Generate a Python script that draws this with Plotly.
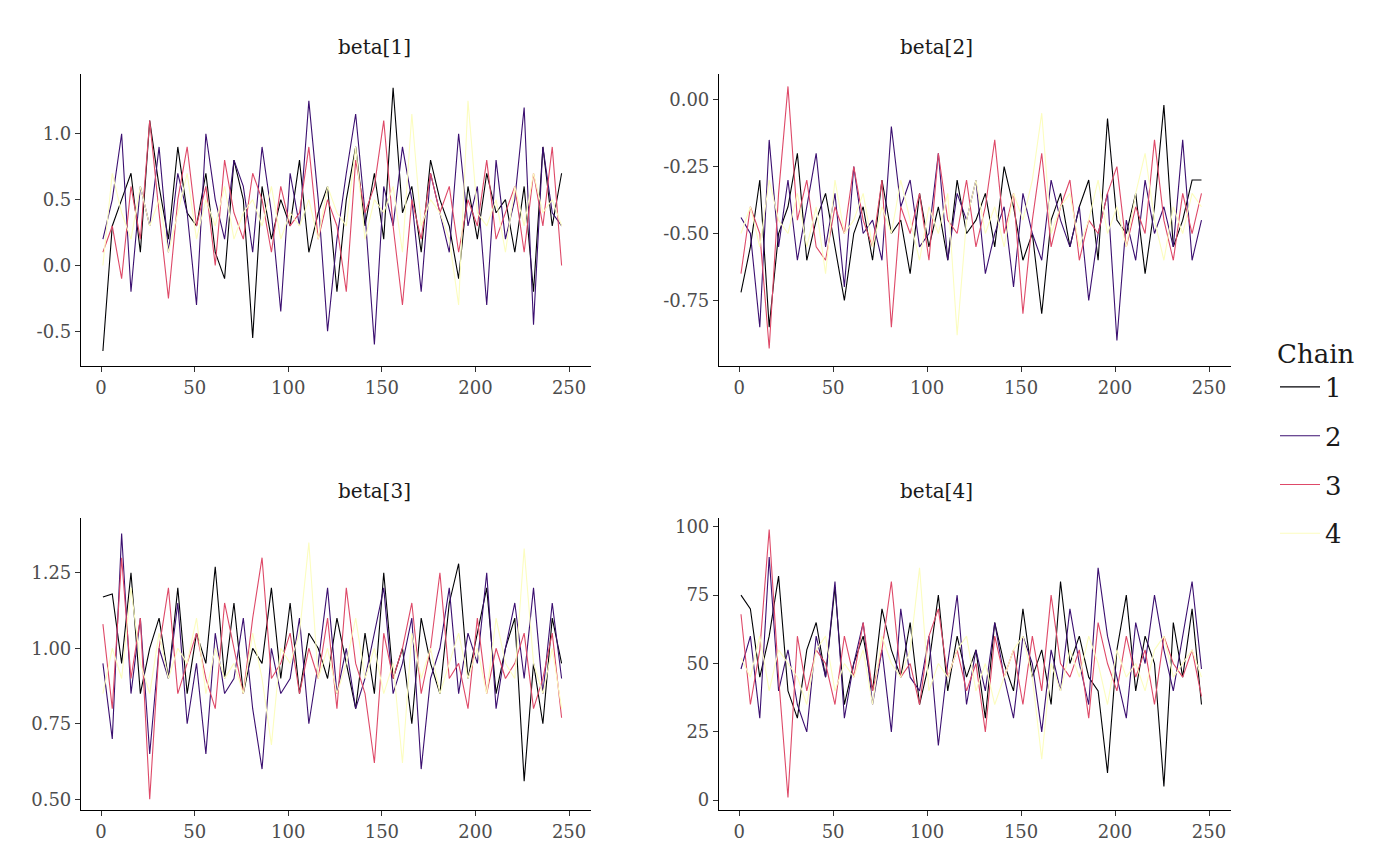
import plotly.graph_objects as go

params = ["beta[1]", "beta[2]", "beta[3]", "beta[4]"]
chains = ["1", "2", "3", "4"]
colors = ["#000004", "#3B0F70", "#DE4968", "#FCFDBF"]
step = 5  # values read roughly every 5th iteration

beta1 = [
    [-0.65,0.3,0.5,0.7,0.1,1.1,0.6,0.2,0.9,0.4,0.3,0.7,0.1,-0.1,0.8,0.5,-0.55,0.6,0.2,0.5,0.3,0.8,0.1,0.4,0.6,-0.2,0.5,0.9,0.3,0.7,0.2,1.35,0.4,0.6,0.1,0.8,0.5,0.3,-0.1,0.6,0.2,0.7,0.4,0.5,0.1,0.6,-0.2,0.9,0.3,0.7],
    [0.2,0.5,1.0,-0.2,0.6,0.3,0.9,0.1,0.7,0.4,-0.3,1.0,0.5,0.2,0.8,0.6,0.1,0.9,0.4,-0.35,0.7,0.3,1.25,0.5,-0.5,0.2,0.7,1.15,0.4,-0.6,0.6,0.3,0.9,0.5,-0.2,0.7,0.4,0.1,1.0,0.3,0.6,-0.3,0.8,0.2,0.5,1.2,-0.45,0.9,0.4,0.3],
    [0.1,0.3,-0.1,0.6,0.2,1.1,0.4,-0.25,0.5,0.9,0.3,0.6,0.0,0.8,0.4,0.2,0.7,0.5,0.1,0.6,0.3,0.4,0.9,0.2,0.5,0.3,-0.2,0.8,0.4,0.6,1.1,0.3,-0.3,0.5,0.2,0.7,0.4,0.6,0.1,0.5,0.3,0.8,0.2,0.4,0.6,0.1,0.7,0.3,0.9,0.0],
    [0.0,0.7,0.4,0.2,0.6,0.3,0.5,0.1,0.4,0.7,0.2,0.5,0.3,0.6,0.2,0.4,0.5,0.3,0.6,0.2,0.4,0.3,0.5,0.2,0.6,0.4,0.3,0.9,0.2,0.5,0.4,0.6,0.1,1.15,0.3,0.5,0.4,0.2,-0.3,1.25,0.4,0.3,0.5,0.1,0.6,0.3,0.7,0.4,0.5,0.3],
]
beta2 = [
    [-0.72,-0.55,-0.3,-0.85,-0.5,-0.4,-0.2,-0.6,-0.45,-0.35,-0.55,-0.75,-0.5,-0.4,-0.6,-0.3,-0.5,-0.45,-0.65,-0.35,-0.55,-0.4,-0.6,-0.3,-0.5,-0.45,-0.35,-0.55,-0.25,-0.4,-0.6,-0.5,-0.8,-0.45,-0.35,-0.55,-0.4,-0.3,-0.6,-0.07,-0.45,-0.5,-0.35,-0.65,-0.4,-0.02,-0.55,-0.45,-0.3,-0.3],
    [-0.44,-0.5,-0.85,-0.15,-0.55,-0.3,-0.6,-0.4,-0.2,-0.55,-0.35,-0.7,-0.25,-0.5,-0.45,-0.6,-0.1,-0.4,-0.3,-0.55,-0.5,-0.2,-0.6,-0.35,-0.45,-0.3,-0.65,-0.5,-0.4,-0.7,-0.35,-0.5,-0.6,-0.3,-0.45,-0.55,-0.4,-0.75,-0.5,-0.35,-0.9,-0.45,-0.6,-0.3,-0.5,-0.4,-0.55,-0.15,-0.6,-0.45],
    [-0.65,-0.4,-0.5,-0.93,-0.35,0.05,-0.45,-0.3,-0.55,-0.6,-0.4,-0.5,-0.25,-0.45,-0.55,-0.3,-0.85,-0.4,-0.5,-0.35,-0.6,-0.2,-0.45,-0.5,-0.3,-0.55,-0.4,-0.15,-0.5,-0.35,-0.8,-0.45,-0.2,-0.55,-0.4,-0.3,-0.6,-0.45,-0.5,-0.35,-0.25,-0.55,-0.4,-0.5,-0.15,-0.45,-0.6,-0.35,-0.5,-0.35],
    [-0.5,-0.4,-0.55,-0.3,-0.45,-0.5,-0.35,-0.55,-0.4,-0.65,-0.3,-0.5,-0.45,-0.35,-0.55,-0.4,-0.5,-0.3,-0.45,-0.6,-0.4,-0.5,-0.35,-0.88,-0.45,-0.3,-0.5,-0.4,-0.55,-0.35,-0.45,-0.3,-0.05,-0.5,-0.4,-0.35,-0.55,-0.45,-0.3,-0.5,-0.4,-0.55,-0.35,-0.2,-0.45,-0.6,-0.4,-0.5,-0.35,-0.4],
]
beta3 = [
    [1.17,1.18,0.95,1.25,0.85,1.0,1.1,0.9,1.2,0.85,1.05,0.95,1.27,0.9,1.15,0.85,1.0,0.95,1.2,0.9,1.15,0.85,1.05,1.0,0.9,1.1,0.95,0.8,1.05,0.85,1.25,0.9,1.0,0.75,1.1,0.95,0.85,1.15,1.28,0.9,1.05,1.2,0.85,1.0,1.1,0.56,0.95,0.75,1.1,0.95],
    [0.95,0.7,1.38,0.85,1.1,0.65,1.0,0.9,1.15,0.75,0.95,0.65,1.05,0.85,0.9,1.1,0.8,0.6,1.0,0.85,0.9,1.1,0.75,0.95,1.2,0.85,1.0,0.8,0.9,1.05,1.2,0.85,0.95,1.1,0.6,0.9,1.0,1.2,0.85,1.05,0.95,1.25,0.8,1.0,1.15,0.9,1.2,0.85,1.15,0.9],
    [1.08,0.8,1.3,0.9,1.1,0.5,1.0,1.2,0.85,0.95,1.05,0.9,0.8,1.15,1.0,0.85,1.1,1.3,0.9,0.95,1.05,0.85,1.0,0.9,1.1,0.8,1.2,0.95,0.85,0.62,1.05,0.9,1.0,1.15,0.85,1.0,1.25,0.9,0.95,0.8,1.1,0.85,1.0,0.9,0.95,1.05,0.8,0.9,1.05,0.77],
    [0.85,1.0,0.9,1.2,0.95,0.85,1.05,0.9,1.0,0.95,1.1,0.85,1.0,0.9,0.95,0.85,1.05,0.9,0.68,1.0,0.95,1.05,1.35,0.9,1.0,0.85,0.95,1.1,0.9,1.0,0.85,0.95,0.62,1.05,0.9,1.0,0.85,0.95,1.05,0.9,1.0,0.85,1.1,0.95,0.9,1.33,0.95,0.85,1.0,0.8],
]
beta4 = [
    [75,70,45,60,82,40,30,55,65,45,78,35,50,60,40,70,55,45,65,35,50,75,40,60,45,55,30,65,50,40,70,45,55,35,80,50,60,45,40,10,55,75,40,60,50,5,65,45,70,35],
    [48,60,30,89,40,55,35,25,60,45,80,30,50,65,35,55,25,70,45,40,60,20,50,75,35,55,40,65,45,30,60,50,25,55,40,70,50,35,85,60,45,30,65,50,75,55,40,60,80,48],
    [68,35,55,99,45,1,60,40,55,50,35,60,45,65,40,55,80,45,50,35,60,70,45,55,40,50,25,60,45,55,35,60,40,75,50,45,55,30,65,50,40,60,45,55,35,60,50,45,55,38],
    [52,45,60,40,55,50,45,35,55,60,40,50,45,55,35,60,50,45,55,85,40,50,45,55,60,40,50,35,45,55,60,45,15,50,40,55,45,60,50,35,55,45,50,40,55,60,45,50,55,45],
]
all_values = [beta1, beta2, beta3, beta4]
y_ranges = [[-0.765, 1.455], [-0.996, 0.097], [0.464, 1.432], [-3.65, 103.3]]
y_ticks = [[-0.5, 0, 0.5, 1.0], [-0.75, -0.5, -0.25, 0], [0.5, 0.75, 1.0, 1.25], [0, 25, 50, 75, 100]]
y_text = [["-0.5", "0.0", "0.5", "1.0"], ["-0.75", "-0.50", "-0.25", "0.00"],
          ["0.50", "0.75", "1.00", "1.25"], ["0", "25", "50", "75", "100"]]

x_domains = [[73 / 1400, 583 / 1400], [711 / 1400, 1223 / 1400]]
y_domains = [[1 - 357 / 866, 1 - 64 / 866], [1 - 802 / 866, 1 - 509 / 866]]
font = "DejaVu Serif"

fig = go.Figure()
layout = {}
for p, name in enumerate(params):
    col, row = p % 2, p // 2
    sfx = "" if p == 0 else str(p + 1)
    for c, vals in enumerate(all_values[p]):
        fig.add_trace(go.Scatter(
            x=[1 + step * i for i in range(len(vals))], y=vals, mode="lines",
            line=dict(color=colors[c], width=1.1), name=chains[c],
            legendgroup=chains[c], showlegend=(p == 0),
            xaxis="x" + sfx, yaxis="y" + sfx,
        ))
    axis_style = dict(showline=True, linecolor="black", linewidth=1.2, ticks="outside",
                      tickcolor="#333", ticklen=5, showgrid=False, zeroline=False,
                      tickfont=dict(family=font, size=18, color="#4D4D4D"))
    layout["xaxis" + sfx] = dict(domain=x_domains[col], anchor="y" + sfx, range=[-10.7, 261.7],
                                 tickvals=[0, 50, 100, 150, 200, 250], **axis_style)
    layout["yaxis" + sfx] = dict(domain=y_domains[row], anchor="x" + sfx, range=y_ranges[p],
                                 tickvals=y_ticks[p], ticktext=y_text[p], **axis_style)
    fig.add_annotation(text=name, xref="paper", yref="paper", showarrow=False,
                       x=sum(x_domains[col]) / 2, y=y_domains[row][1] + 0.015,
                       yanchor="bottom", font=dict(family=font, size=20, color="#1A1A1A"))

fig.update_layout(
    width=1400, height=866, plot_bgcolor="white", paper_bgcolor="white",
    margin=dict(l=0, r=0, t=0, b=0),
    legend=dict(title=dict(text="Chain", font=dict(family=font, size=26)),
                font=dict(family=font, size=26, color="#1A1A1A"),
                x=0.905, y=0.63, yanchor="top", itemwidth=40, tracegroupgap=12),
    **layout,
)
fig.write_html("out.html")
